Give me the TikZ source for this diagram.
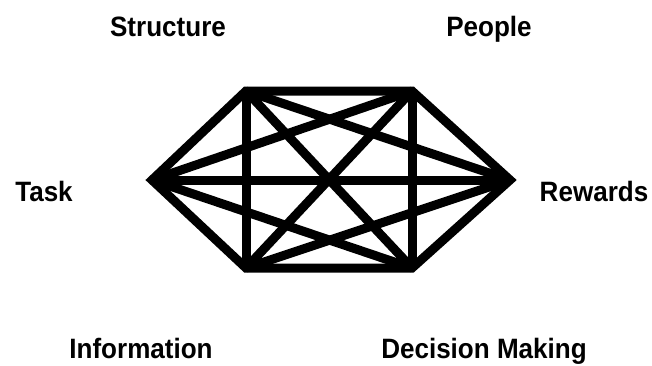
\documentclass[tikz,border=0pt]{standalone}
\usepackage{fontspec}
\setmainfont{Liberation Sans}[FakeStretch=0.93]
\begin{document}
\begin{tikzpicture}[x=1pt,y=-1pt,
  lbl/.style={font=\bfseries\fontsize{28}{32}\selectfont, inner sep=0pt, anchor=base},
  edge/.style={line width=9pt, line cap=butt, line join=miter}]
\useasboundingbox (0,0) rectangle (652,365);
\coordinate (A) at (246,91);
\coordinate (B) at (412,91);
\coordinate (C) at (510,180);
\coordinate (D) at (412,268);
\coordinate (E) at (246,268);
\coordinate (F) at (152,180);
\draw[edge] (A) -- (B) -- (C) -- (D) -- (E) -- (F) -- cycle;
\foreach \p/\q in {A/C,A/D,A/E,B/D,B/E,B/F,C/E,C/F,D/F}
  \draw[edge] (\p) -- (\q);
\node[lbl] (s) at (168,36) {Structure};
\node[lbl] (p) at (489,36) {People};
\node[lbl] (t) at (44,201) {Task};
\node[lbl] (r) at (594,201) {Rewards};
\node[lbl] (i) at (141,358) {Information};
\node[lbl] (d) at (484,358) {Decision Making};
\end{tikzpicture}
\end{document}
